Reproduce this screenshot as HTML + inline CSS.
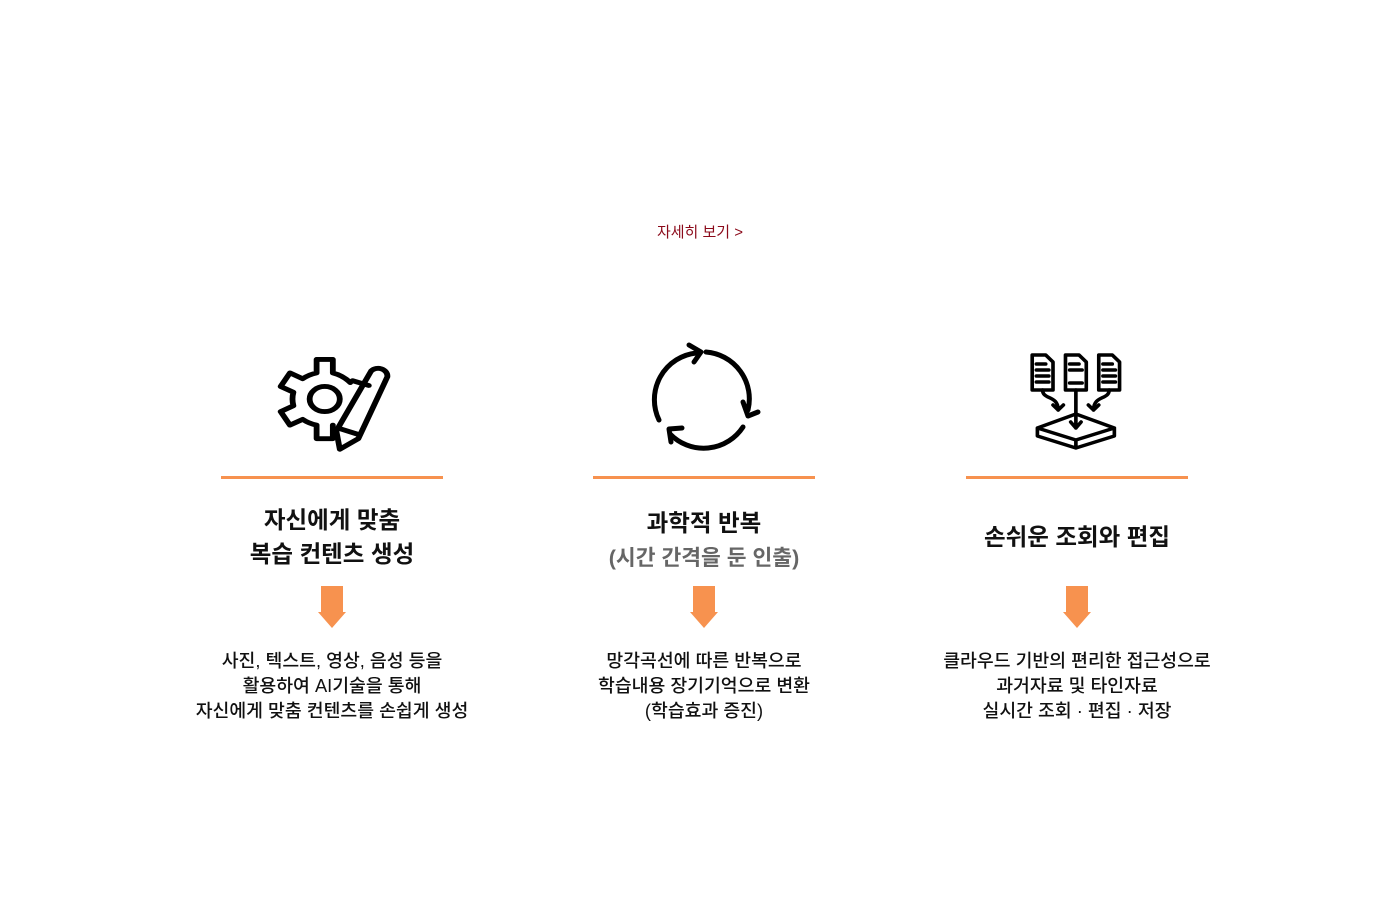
<!DOCTYPE html>
<html><head><meta charset="utf-8"><style>
body{margin:0;width:1400px;height:901px;background:#fff;font-family:"Liberation Sans","Noto Sans CJK KR",sans-serif;position:relative;overflow:hidden}
.more{position:absolute;top:221px;left:0;width:1400px;text-align:center;font-size:15px;color:#8b0a1a}
.col{position:absolute;top:0;width:372px;height:901px}
.ico{position:absolute;left:136px;top:340px;width:100px;height:120px}
.line{position:absolute;left:75px;top:476px;width:222px;height:3px;background:#f7924f}
.t{position:absolute;left:-20px;width:412px;text-align:center;font-size:23.5px;font-weight:bold;color:#111;line-height:34px}
.sub{color:#666;font-size:21.5px;font-weight:600}
.arr{position:absolute;left:172px;top:586px}
.d{position:absolute;left:-20px;top:648px;width:412px;text-align:center;font-size:18.3px;color:#111;line-height:25px;font-weight:500}
</style></head><body>
<div class="more">자세히 보기 &gt;</div>

<div class="col" style="left:146px">
<svg class="ico" viewBox="0 0 100 120" style="left:130px;top:342px;width:116px;height:116px" preserveAspectRatio="none">
<g fill="none" stroke="#000" stroke-width="5" stroke-linejoin="round" stroke-linecap="round">
<path d="M64 42 A32 32 0 0 0 49 32 V18 H35 V32 A32 32 0 0 0 23 38 L12 32 L4 46 L15 52 A32 32 0 0 0 15 66 L4 72 L12 86 L23 80 A32 32 0 0 0 35 86 V100 H49 V86"/>
<circle cx="42" cy="59" r="13"/>
<path d="M82 30 A8 8 0 0 1 96 36 L71 100 L55 111 L52 92 Z M66 40 L80 45 M56 90 L72 96"/>
</g></svg>
<div class="line"></div>
<div class="t" style="top:503px">자신에게 맞춤<br>복습 컨텐츠 생성</div>
<svg class="arr" width="28" height="42"><path d="M3 0H25V26H28L14 42L0 26H3Z" fill="#f7924f"/></svg>
<div class="d">사진, 텍스트, 영상, 음성 등을<br>활용하여 AI기술을 통해<br>자신에게 맞춤 컨텐츠를 손쉽게 생성</div>
</div>

<div class="col" style="left:518px">
<svg class="ico" viewBox="0 0 120 120" style="left:126px;width:120px">
<g fill="none" stroke="#000" stroke-width="5" stroke-linecap="round" stroke-linejoin="round">
<path d="M62 12 A47 47 0 0 1 104 70"/>
<path d="M99 62 L104 76 L114 72"/>
<path d="M99 87 A47 47 0 0 1 26 94"/>
<path d="M38 88 L25 89 L27 102"/>
<path d="M15 80 A47 47 0 0 1 52 13"/>
<path d="M45 5 L57 12 L50 22"/>
</g></svg>
<div class="line"></div>
<div class="t" style="top:506px">과학적 반복<br><span class="sub">(시간 간격을 둔 인출)</span></div>
<svg class="arr" width="28" height="42"><path d="M3 0H25V26H28L14 42L0 26H3Z" fill="#f7924f"/></svg>
<div class="d">망각곡선에 따른 반복으로<br>학습내용 장기기억으로 변환<br>(학습효과 증진)</div>
</div>

<div class="col" style="left:891px">
<svg class="ico" viewBox="0 0 100 100" style="left:136px;top:350px;width:104px;height:100px" preserveAspectRatio="none">
<g fill="none" stroke="#000" stroke-width="3.5" stroke-linejoin="round" stroke-linecap="round">
<path d="M5 5H18L25 12V40H5Z M9 14H18 M9 20H21 M9 26H21 M9 32H21"/>
<path d="M37 5H50L57 12V40H37Z M41 14H50 M41 20H53 M41 33H53"/>
<path d="M69 5H82L89 12V40H69Z M73 14H82 M73 20H85 M73 26H85 M73 32H85"/>
<path d="M47 40V78 M42 72L47 78L52 72"/>
<path d="M15 40C15 50 30 45 30 60 M25 55L30 60L35 55"/>
<path d="M79 40C79 50 64 45 64 60 M59 55L64 60L69 55"/>
<path d="M10 78L47 64L84 78L47 90Z M10 78V86L47 98L84 86V78 M47 90V98"/>
</g></svg>
<div class="line"></div>
<div class="t" style="top:520px">손쉬운 조회와 편집</div>
<svg class="arr" width="28" height="42"><path d="M3 0H25V26H28L14 42L0 26H3Z" fill="#f7924f"/></svg>
<div class="d">클라우드 기반의 편리한 접근성으로<br>과거자료 및 타인자료<br>실시간 조회 · 편집 · 저장</div>
</div>
</body></html>
